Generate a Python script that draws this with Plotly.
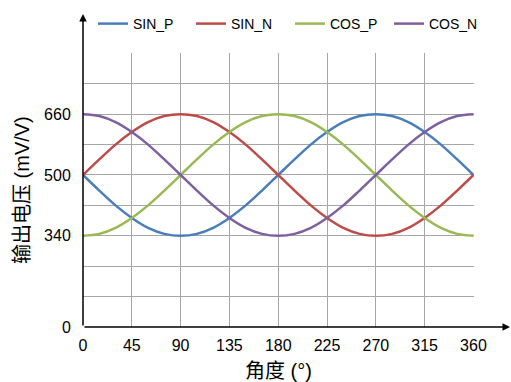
import plotly.graph_objects as go

angles = list(range(0, 361, 15))
sin_p = [500, 459, 420, 387, 361, 345, 340, 345, 361, 387, 420, 459, 500, 541, 580, 613, 639, 655, 660, 655, 639, 613, 580, 541, 500]
sin_n = [500, 541, 580, 613, 639, 655, 660, 655, 639, 613, 580, 541, 500, 459, 420, 387, 361, 345, 340, 345, 361, 387, 420, 459, 500]
cos_p = [340, 345, 361, 387, 420, 459, 500, 541, 580, 613, 639, 655, 660, 655, 639, 613, 580, 541, 500, 459, 420, 387, 361, 345, 340]
cos_n = [660, 655, 639, 613, 580, 541, 500, 459, 420, 387, 361, 345, 340, 345, 361, 387, 420, 459, 500, 541, 580, 613, 639, 655, 660]

series = [("SIN_P", sin_p, "#4A7EBB"), ("SIN_N", sin_n, "#BE4B48"),
          ("COS_P", cos_p, "#98B954"), ("COS_N", cos_n, "#7D60A0")]

x_ticks = [0, 45, 90, 135, 180, 225, 270, 315, 360]
# broken axis: bottom of the plot stands for 0
y_tickvals = [100, 340, 500, 660]
y_ticktext = ["0", "340", "500", "660"]

FONT = "Liberation Sans, Arial, Noto Sans CJK SC, sans-serif"

legend_ids = ["legend", "legend2", "legend3", "legend4"]
legend_x_px = [93, 191, 290, 389]

fig = go.Figure()
for (name, vals, col), lid in zip(series, legend_ids):
    fig.add_trace(go.Scatter(x=angles, y=vals, name=name, mode="lines", legend=lid,
                             line=dict(color=col, width=2.5, shape="spline")))

grid = "#A6A6A6"
legends = {}
for lid, px in zip(legend_ids, legend_x_px):
    legends[lid] = dict(orientation="h", x=px / 511, y=1 - 8 / 382, xref="container", yref="container",
                        xanchor="left", yanchor="top", font=dict(size=14),
                        itemwidth=30, bgcolor="rgba(0,0,0,0)")

fig.update_layout(
    width=511, height=382,
    margin=dict(l=83, r=37, t=53, b=55, autoexpand=False),
    paper_bgcolor="white", plot_bgcolor="white",
    font=dict(family=FONT, size=16, color="#000000"),
    showlegend=True,
    **legends,
    xaxis=dict(range=[0, 360.5], tickmode="array", tickvals=x_ticks, showgrid=True,
               gridcolor=grid, gridwidth=1, zeroline=False, showline=False, automargin=False,
               ticks="outside", ticklen=4, tickcolor="rgba(0,0,0,0)",
               title=dict(text="角度 (°)", font=dict(size=20), standoff=10)),
    yaxis=dict(range=[100, 821], tickmode="array", tickvals=y_tickvals, ticktext=y_ticktext,
               showgrid=True, gridcolor=grid, gridwidth=1, zeroline=False, showline=False,
               automargin=False,
               ticks="outside", ticklen=8, tickcolor="rgba(0,0,0,0)",
               minor=dict(tick0=100, dtick=80, showgrid=True, gridcolor=grid, gridwidth=1, ticklen=0)),
)

# y-axis title placed as rotated text
fig.add_annotation(x=(22 - 83) / 391, y=0.5, xref="paper", yref="paper", text="输出电压 (mV/V)",
                   textangle=-90, showarrow=False, font=dict(size=20), xanchor="center", yanchor="middle")

# axis arrows
fig.add_annotation(x=0, y=(327 - 14) / 274, xref="paper", yref="paper", ax=0, ay=313,
                   axref="pixel", ayref="pixel", text="", showarrow=True,
                   arrowhead=2, arrowsize=1, arrowwidth=1.5, arrowcolor="#000000")
fig.add_annotation(x=(511 - 83) / 391, y=0, xref="paper", yref="paper", ax=-428, ay=0,
                   axref="pixel", ayref="pixel", text="", showarrow=True,
                   arrowhead=2, arrowsize=1, arrowwidth=1.5, arrowcolor="#000000")

fig.write_html("out.html", config={"displayModeBar": False},
               post_script="document.body.style.margin='0';")
